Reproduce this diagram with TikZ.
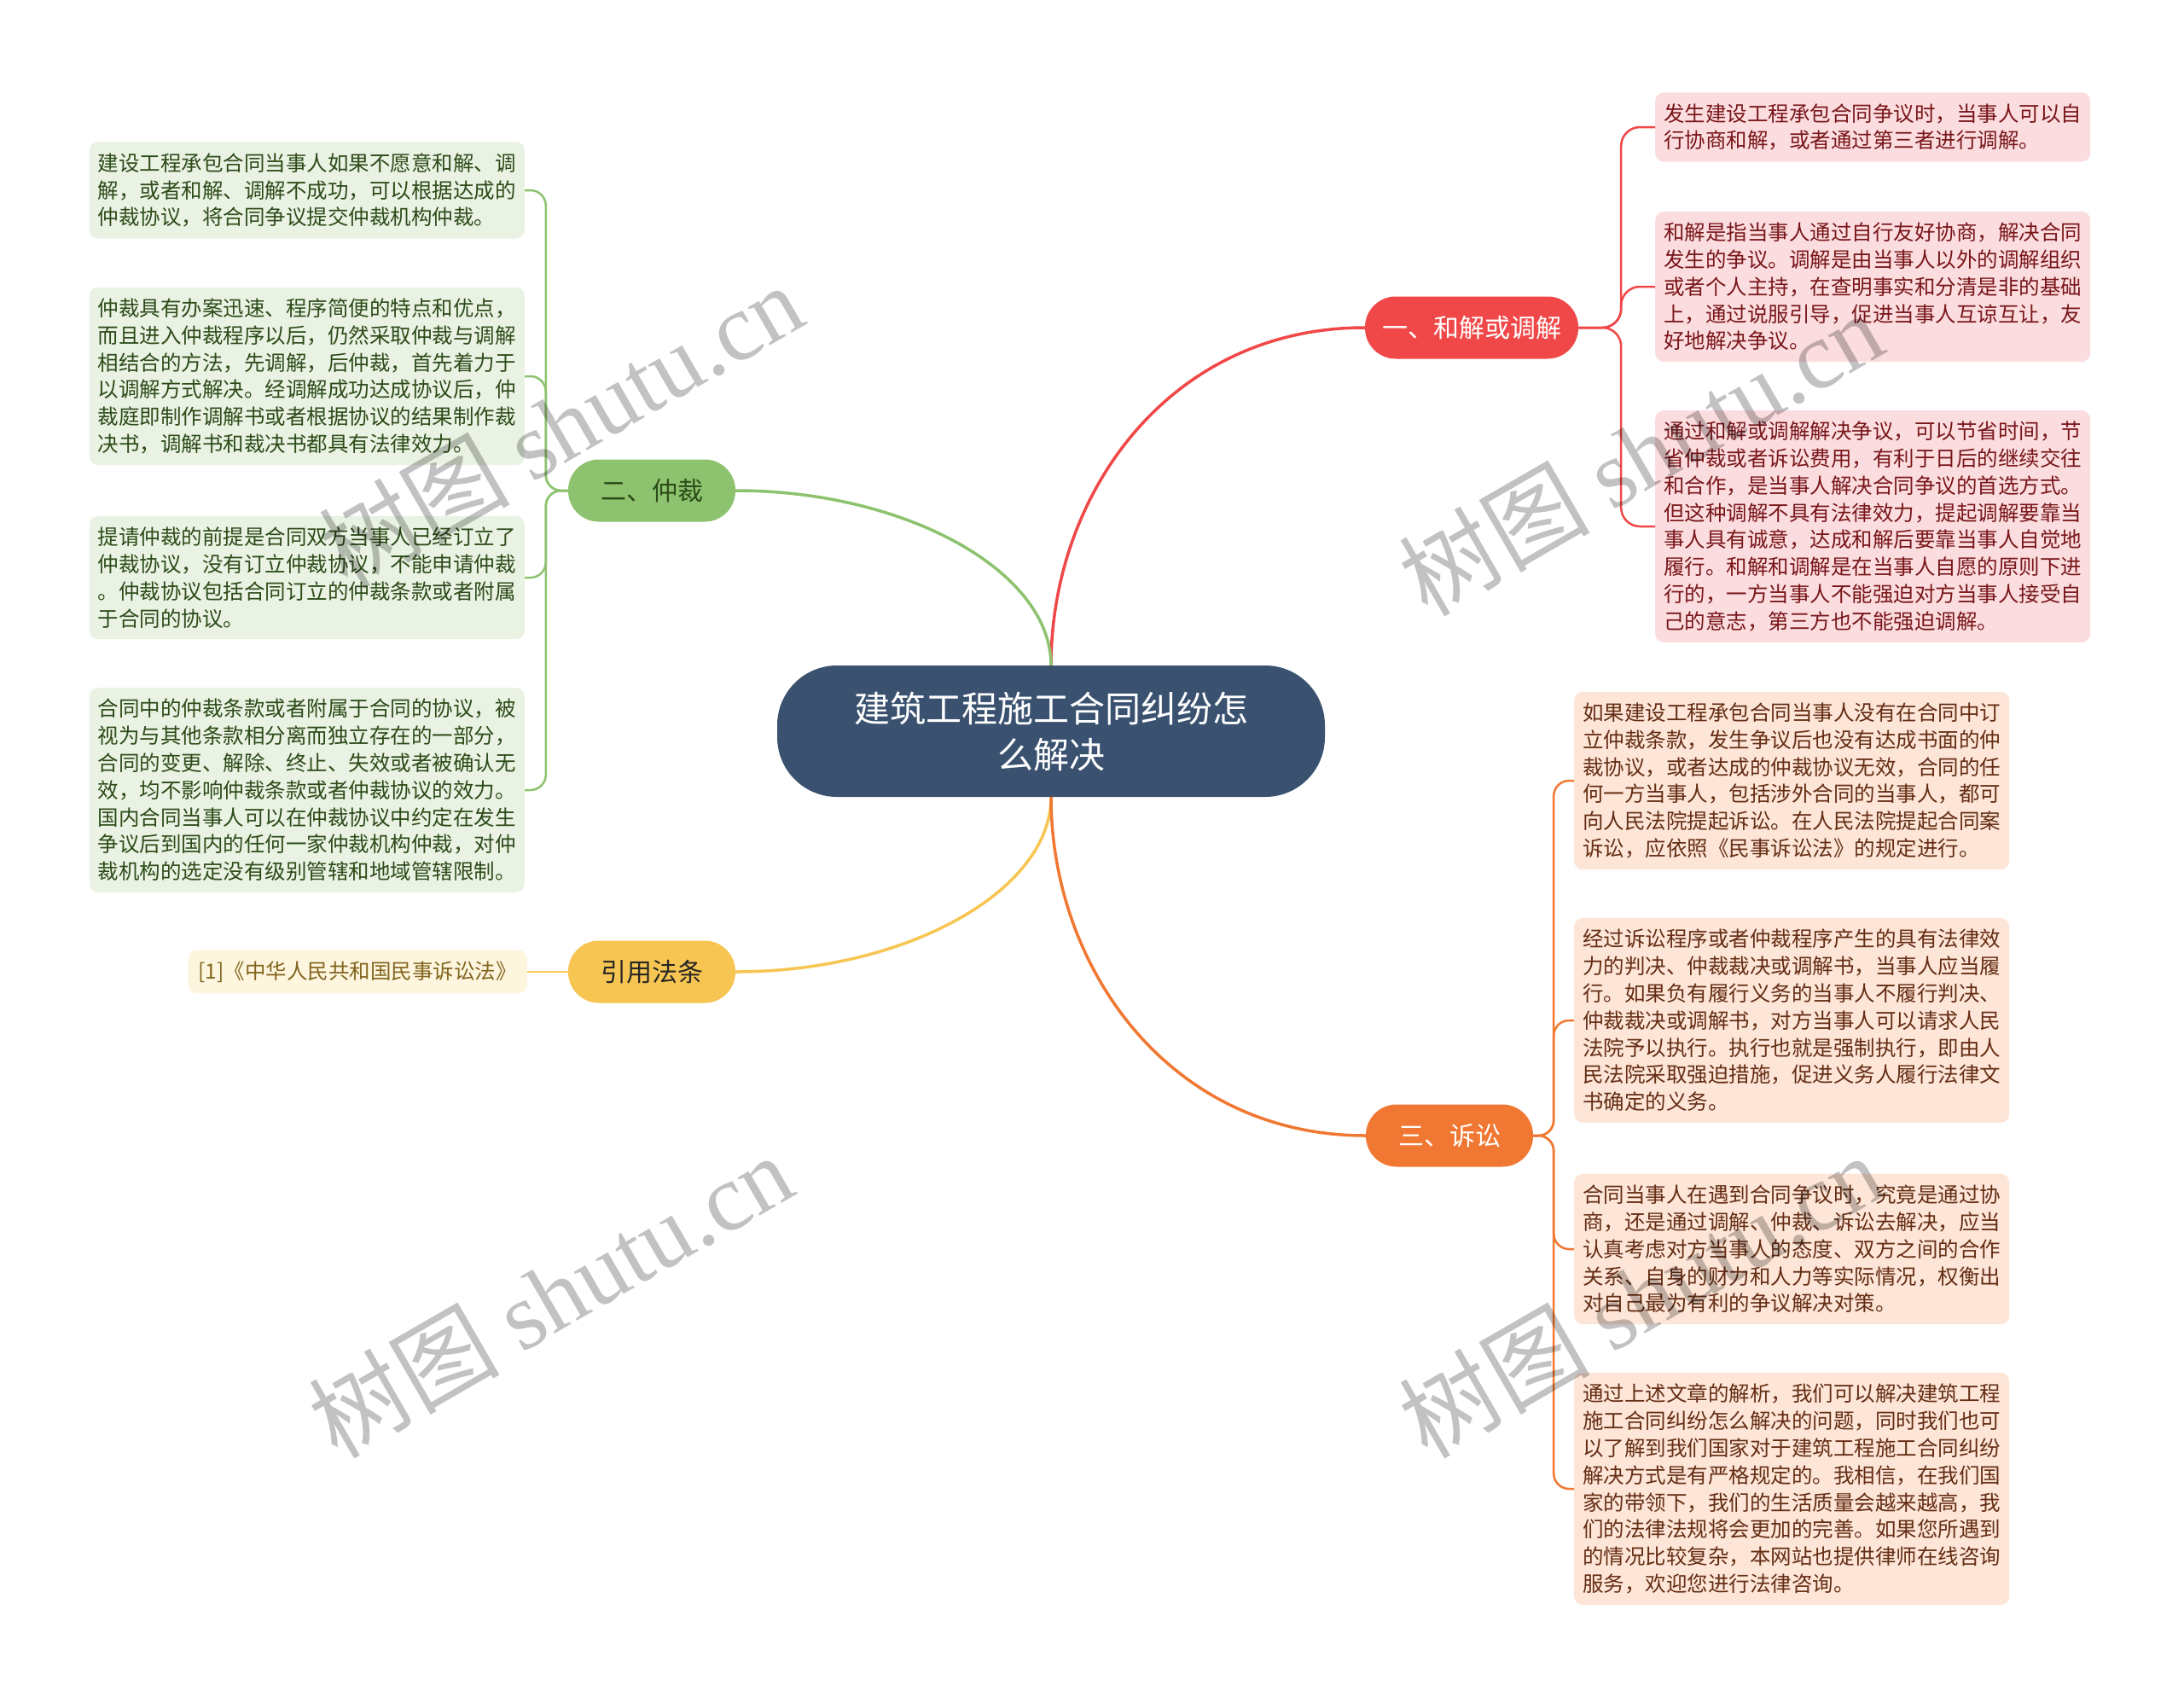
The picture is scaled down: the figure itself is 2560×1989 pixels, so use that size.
\documentclass[tikz,border=0pt]{standalone}
\usepackage{fontspec}
\setmainfont{Noto Sans CJK SC}
\newfontfamily\wmserif{Liberation Serif}
\definecolor{rootblue}{RGB}{58,82,112}
\definecolor{hjred}{RGB}{240,72,72}
\definecolor{hjleaf}{RGB}{252,221,223}
\definecolor{hjtext}{RGB}{120,22,26}
\definecolor{zcgreen}{RGB}{141,195,111}
\definecolor{zcleaf}{RGB}{233,242,227}
\definecolor{zctext}{RGB}{45,75,25}
\definecolor{yyyellow}{RGB}{247,197,82}
\definecolor{yyleaf}{RGB}{253,245,222}
\definecolor{yytext}{RGB}{130,100,30}
\definecolor{ssorange}{RGB}{241,120,50}
\definecolor{ssleaf}{RGB}{253,229,215}
\definecolor{sstext}{RGB}{100,45,20}
\newcommand\leafsize{\fontsize{24.5}{31.8}\selectfont}
\newcommand\branchsize{\fontsize{30}{36}\selectfont}
\newcommand\rootsize{\fontsize{42}{54}\selectfont}
\begin{document}
\begin{tikzpicture}[x=1pt,y=-1pt,
  leaf/.style={rounded corners=10pt,align=left,text width=490pt,inner xsep=10pt,inner ysep=13pt,font=\leafsize},
  branch/.style={rounded corners=36pt,minimum width=196pt,minimum height=73pt,inner xsep=20pt,font=\branchsize},
  wm/.style={rotate=30,text=black,opacity=.24,font=\fontsize{112}{112}\selectfont}]
\fill[white](0,0)rectangle(2560,1989);
\useasboundingbox(0,0)rectangle(2560,1989);
% root and branches
\node[fill=rootblue,text=white,rounded corners=70pt,minimum width=642pt,minimum height=154pt,align=center,font=\rootsize] (c) at (1232,857) {建筑工程施工合同纠纷怎\\么解决};
\node[branch,fill=hjred,text=white] (hj) at (1725,384) {一、和解或调解};
\node[branch,fill=zcgreen,text=zctext] (zc) at (764,575) {二、仲裁};
\node[branch,fill=yyyellow,text=black!85] (yy) at (764,1139) {引用法条};
\node[branch,fill=ssorange,text=white] (ss) at (1699,1331) {三、诉讼};
% left leaves
\node[leaf,fill=zcleaf,text=zctext,anchor=east] (l1) at (615,223) {建设工程承包合同当事人如果不愿意和解、调\\解，或者和解、调解不成功，可以根据达成的\\仲裁协议，将合同争议提交仲裁机构仲裁。};
\node[leaf,fill=zcleaf,text=zctext,anchor=east] (l2) at (615,441) {仲裁具有办案迅速、程序简便的特点和优点，\\而且进入仲裁程序以后，仍然采取仲裁与调解\\相结合的方法，先调解，后仲裁，首先着力于\\以调解方式解决。经调解成功达成协议后，仲\\裁庭即制作调解书或者根据协议的结果制作裁\\决书，调解书和裁决书都具有法律效力。};
\node[leaf,fill=zcleaf,text=zctext,anchor=east] (l3) at (615,677) {提请仲裁的前提是合同双方当事人已经订立了\\仲裁协议，没有订立仲裁协议，不能申请仲裁\\。仲裁协议包括合同订立的仲裁条款或者附属\\于合同的协议。};
\node[leaf,fill=zcleaf,text=zctext,anchor=east] (l4) at (615,926) {合同中的仲裁条款或者附属于合同的协议，被\\视为与其他条款相分离而独立存在的一部分，\\合同的变更、解除、终止、失效或者被确认无\\效，均不影响仲裁条款或者仲裁协议的效力。\\国内合同当事人可以在仲裁协议中约定在发生\\争议后到国内的任何一家仲裁机构仲裁，对仲\\裁机构的选定没有级别管辖和地域管辖限制。};
\node[rounded corners=10pt,fill=yyleaf,text=yytext,inner xsep=12pt,inner ysep=13pt,font=\leafsize,anchor=east] (ref) at (618,1139) {[1]《中华人民共和国民事诉讼法》};
% right leaves
\node[leaf,fill=hjleaf,text=hjtext,anchor=west] (r1) at (1940,149) {发生建设工程承包合同争议时，当事人可以自\\行协商和解，或者通过第三者进行调解。};
\node[leaf,fill=hjleaf,text=hjtext,anchor=west] (r2) at (1940,336) {和解是指当事人通过自行友好协商，解决合同\\发生的争议。调解是由当事人以外的调解组织\\或者个人主持，在查明事实和分清是非的基础\\上，通过说服引导，促进当事人互谅互让，友\\好地解决争议。};
\node[leaf,fill=hjleaf,text=hjtext,anchor=west] (r3) at (1940,617) {通过和解或调解解决争议，可以节省时间，节\\省仲裁或者诉讼费用，有利于日后的继续交往\\和合作，是当事人解决合同争议的首选方式。\\但这种调解不具有法律效力，提起调解要靠当\\事人具有诚意，达成和解后要靠当事人自觉地\\履行。和解和调解是在当事人自愿的原则下进\\行的，一方当事人不能强迫对方当事人接受自\\己的意志，第三方也不能强迫调解。};
\node[leaf,fill=ssleaf,text=sstext,anchor=west] (o1) at (1845,915) {如果建设工程承包合同当事人没有在合同中订\\立仲裁条款，发生争议后也没有达成书面的仲\\裁协议，或者达成的仲裁协议无效，合同的任\\何一方当事人，包括涉外合同的当事人，都可\\向人民法院提起诉讼。在人民法院提起合同案\\诉讼，应依照《民事诉讼法》的规定进行。};
\node[leaf,fill=ssleaf,text=sstext,anchor=west] (o2) at (1845,1196) {经过诉讼程序或者仲裁程序产生的具有法律效\\力的判决、仲裁裁决或调解书，当事人应当履\\行。如果负有履行义务的当事人不履行判决、\\仲裁裁决或调解书，对方当事人可以请求人民\\法院予以执行。执行也就是强制执行，即由人\\民法院采取强迫措施，促进义务人履行法律文\\书确定的义务。};
\node[leaf,fill=ssleaf,text=sstext,anchor=west] (o3) at (1845,1464) {合同当事人在遇到合同争议时，究竟是通过协\\商，还是通过调解、仲裁、诉讼去解决，应当\\认真考虑对方当事人的态度、双方之间的合作\\关系、自身的财力和人力等实际情况，权衡出\\对自己最为有利的争议解决对策。};
\node[leaf,fill=ssleaf,text=sstext,anchor=west] (o4) at (1845,1745) {通过上述文章的解析，我们可以解决建筑工程\\施工合同纠纷怎么解决的问题，同时我们也可\\以了解到我们国家对于建筑工程施工合同纠纷\\解决方式是有严格规定的。我相信，在我们国\\家的带领下，我们的生活质量会越来越高，我\\们的法律法规将会更加的完善。如果您所遇到\\的情况比较复杂，本网站也提供律师在线咨询\\服务，欢迎您进行法律咨询。};
% connectors
\draw[hjred,line width=3.5pt](c.north)..controls +(0,-200) and +(-230,0)..(hj.west);
\draw[zcgreen,line width=3.5pt](c.north)..controls +(0,-110) and +(200,0)..(zc.east);
\draw[yyyellow,line width=3.5pt](c.south)..controls +(0,110) and +(200,0)..(yy.east);
\draw[ssorange,line width=3.5pt](c.south)..controls +(0,200) and +(-230,0)..(ss.west);
\foreach \n in {l1,l2,l3,l4}
  \draw[zcgreen,line width=2.5pt,rounded corners=18pt](zc.west)--++(-26,0)|-(\n.east);
\foreach \n in {r1,r2,r3}
  \draw[hjred,line width=2.5pt,rounded corners=22pt](hj.east)--++(50,0)|-(\n.west);
\foreach \n in {o1,o2,o3,o4}
  \draw[ssorange,line width=2.5pt,rounded corners=18pt](ss.east)--++(24,0)|-(\n.west);
\draw[yyyellow,line width=2.5pt](yy.west)--(ref.east);
% watermark
\node[wm] (w1) at (657,498) {树图 {\wmserif shutu.cn}};
\node[wm] (w2) at (1923,531) {树图 {\wmserif shutu.cn}};
\node[wm] (w3) at (645,1518) {树图 {\wmserif shutu.cn}};
\node[wm] (w4) at (1923,1518) {树图 {\wmserif shutu.cn}};
\end{tikzpicture}
\end{document}
